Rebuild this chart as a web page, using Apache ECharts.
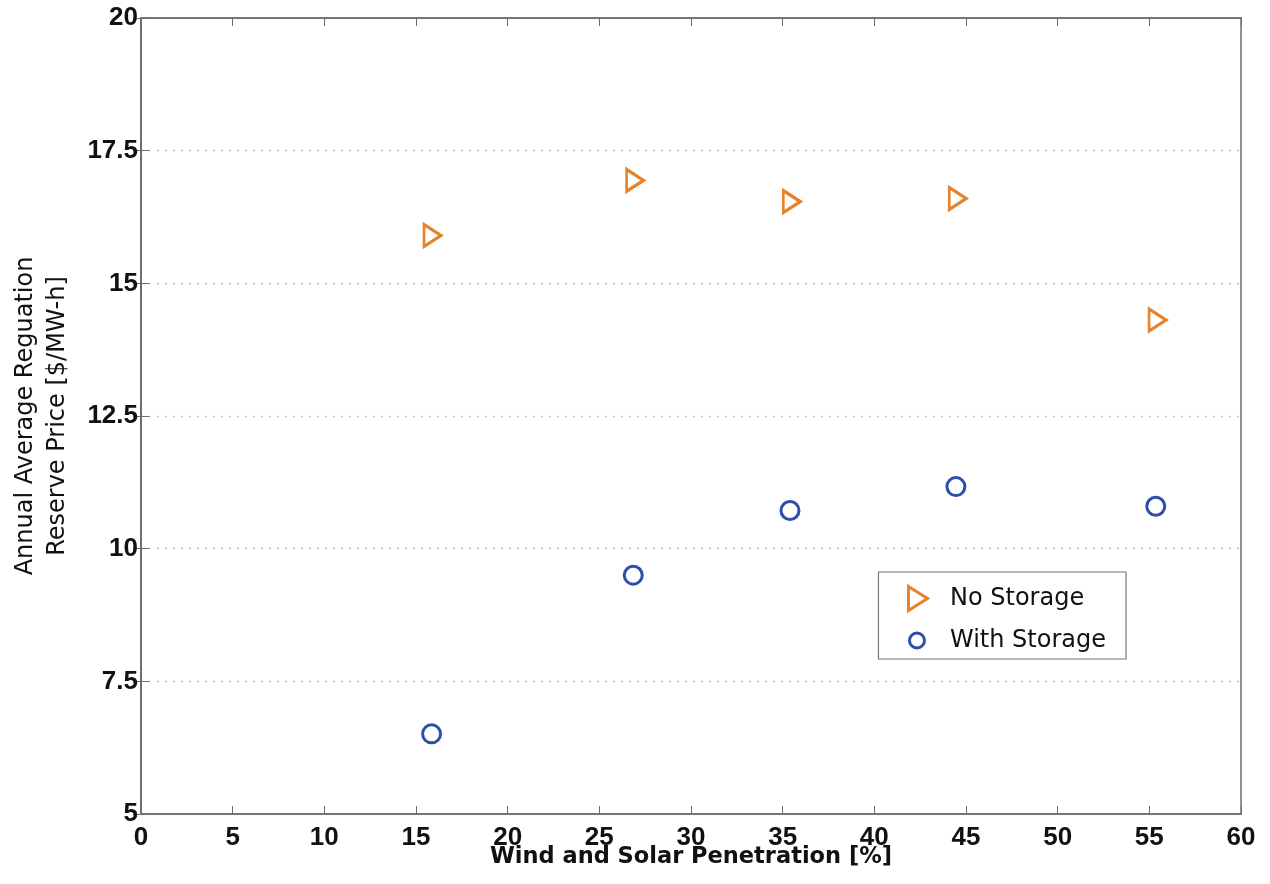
<!DOCTYPE html>
<html><head><meta charset="utf-8">
<script src="https://cdn.jsdelivr.net/npm/echarts@6/dist/echarts.min.js"></script>
<style>html,body{margin:0;padding:0;background:#fff}#c{width:1270px;height:884px}</style>
</head><body><div id="c"></div>
<script>
const penetrationNo = [15.9, 26.95, 35.5, 44.55, 55.45];
const noStorage = [15.9, 16.94, 16.54, 16.6, 14.31];
const penetrationWith = [15.85, 26.85, 35.4, 44.45, 55.35];
const withStorage = [6.51, 9.5, 10.72, 11.17, 10.8];
const seriesNames = ['No Storage', 'With Storage'];
const xTitle = 'Wind and Solar Penetration [%]';
const yTitle = 'Annual Average Reguation\nReserve Price [$/MW-h]';

const TICKFONT = 'Liberation Sans';
const TEXTFONT = 'DejaVu Sans';
const axisColor = '#6e6e6e';
const orange = '#E6832A', blue = '#2F4DAA';
const chart = echarts.init(document.getElementById('c'));
const tickLabel = {color:'#111', fontFamily:TICKFONT, fontWeight:'bold', fontSize:26};
chart.setOption({
  animation:false,
  grid:{left:141, right:29, top:18, bottom:70, containLabel:false, outerBoundsMode:'none',
        show:true, borderColor:axisColor, borderWidth:1.5},
  legend:{
    right:144, top:572, orient:'vertical', itemGap:15, itemWidth:22, itemHeight:24,
    padding:[13,20,5,28],
    borderColor:'#777', borderWidth:1.2, backgroundColor:'#fff',
    textStyle:{fontFamily:TEXTFONT, fontSize:24, color:'#111', padding:[0,0,0,16], lineHeight:24},
    data:[
      {name:seriesNames[0], icon:'path://M0,0L19,12L0,24Z',
       itemStyle:{color:'#fff', borderColor:orange, borderWidth:3}},
      {name:seriesNames[1], icon:'path://M0,0M20,24M1.5,12a7.5,7.5 0 1,0 15,0a7.5,7.5 0 1,0 -15,0Z',
       itemStyle:{color:'#fff', borderColor:blue, borderWidth:3}}
    ]
  },
  xAxis:[{
    type:'value', min:0, max:60, interval:5,
    name:xTitle, nameLocation:'middle', nameGap:32, nameMoveOverlap:false,
    nameTextStyle:{fontFamily:TEXTFONT, fontSize:22.5, fontWeight:'bold', color:'#111'},
    axisLine:{lineStyle:{color:axisColor, width:1.5}},
    axisTick:{inside:true, length:8, lineStyle:{color:axisColor}},
    axisLabel:Object.assign({margin:11}, tickLabel),
    splitLine:{show:false}
  },{
    type:'value', min:0, max:60, interval:5, position:'top',
    axisLine:{lineStyle:{color:axisColor, width:1.5}},
    axisTick:{inside:true, length:8, lineStyle:{color:axisColor}},
    axisLabel:{show:false}, splitLine:{show:false}
  }],
  yAxis:[{
    type:'value', min:5, max:20, interval:2.5,
    name:yTitle, nameLocation:'middle', nameRotate:90, nameGap:67,
    nameTextStyle:{fontFamily:TEXTFONT, fontSize:24, color:'#111', lineHeight:32},
    axisLine:{lineStyle:{color:axisColor, width:1.5}},
    axisTick:{inside:true, length:8, lineStyle:{color:axisColor}},
    axisLabel:Object.assign({margin:3}, tickLabel),
    splitLine:{show:true, lineStyle:{type:[1.5,6.5], color:'#b0b0b0', width:1.3}}
  },{
    type:'value', min:5, max:20, interval:2.5, position:'right',
    axisLine:{lineStyle:{color:axisColor, width:1.5}},
    axisTick:{inside:true, length:8, lineStyle:{color:axisColor}},
    axisLabel:{show:false}, splitLine:{show:false}
  }],
  series:[{
    name:seriesNames[0], type:'scatter', symbol:'triangle', symbolRotate:-90,
    symbolSize:[22,17],
    itemStyle:{color:'#fff', borderColor:orange, borderWidth:3, opacity:1},
    data:penetrationNo.map((x,i)=>[x, noStorage[i]])
  },{
    name:seriesNames[1], type:'scatter', symbol:'circle', symbolSize:18,
    itemStyle:{color:'#fff', borderColor:blue, borderWidth:3, opacity:1},
    data:penetrationWith.map((x,i)=>[x, withStorage[i]])
  }]
});
</script></body></html>
